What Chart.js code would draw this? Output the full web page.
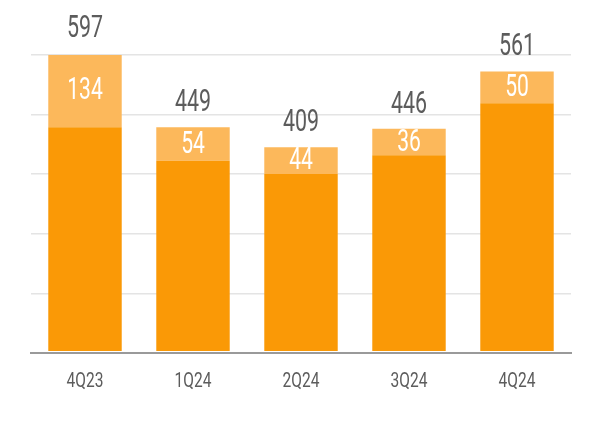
<!DOCTYPE html>
<html>
<head>
<meta charset="utf-8">
<script src="https://cdn.jsdelivr.net/npm/chart.js@4/dist/chart.umd.min.js"></script>
<style>
  html, body { margin: 0; padding: 0; background: #fff; }
  #wrap { width: 600px; height: 422px; position: relative; }
</style>
</head>
<body>
<div id="wrap"><canvas id="qChart"></canvas></div>
<script>
// ---------- data ----------
const quarters = ['4Q23', '1Q24', '2Q24', '3Q24', '4Q24'];
// height of the dark part as drawn in the picture
const baseValues = [449, 382, 355, 393, 497];
// labels printed in the light part, and totals above the bars
const topValues = [134, 54, 44, 36, 50];
const totals = [597, 449, 409, 446, 561];
// light part fills the rest of the bar up to the total
const topSegments = totals.map((t, i) => t - baseValues[i]);

const FONT = 'Roboto, "Noto Sans", sans-serif';
const DARK = '#FA9906';
const LIGHT = '#FCB85B';
const TEXT = '#5c5c5c';

// draw text squeezed horizontally (reference uses a condensed face)
function narrowText(ctx, txt, x, y, squeeze) {
  ctx.save();
  ctx.translate(x, y);
  ctx.scale(squeeze, 1);
  ctx.fillText(txt, 0, 0);
  ctx.restore();
}

// ---------- labels on/above bars + category labels ----------
const barLabels = {
  id: 'barLabels',
  afterDatasetsDraw(chart) {
    const ctx = chart.ctx;
    const topMeta = chart.getDatasetMeta(1);
    const xScale = chart.scales.x;
    ctx.save();
    ctx.textAlign = 'center';
    ctx.textBaseline = 'middle';
    ctx.font = '31px ' + FONT;
    topMeta.data.forEach((bar, i) => {
      ctx.fillStyle = '#ffffff';
      narrowText(ctx, String(topValues[i]), bar.x, (bar.y + bar.base) / 2 + 1, 0.68);
      ctx.fillStyle = TEXT;
      narrowText(ctx, String(totals[i]), bar.x, bar.y - 24, 0.69);
    });
    ctx.font = '21px ' + FONT;
    ctx.fillStyle = TEXT;
    quarters.forEach((q, i) => {
      narrowText(ctx, q, xScale.getPixelForValue(i), xScale.top + 29, 0.74);
    });
    ctx.restore();
  }
};

new Chart(document.getElementById('qChart'), {
  type: 'bar',
  data: {
    labels: quarters,
    datasets: [
      { label: 'base', data: baseValues, backgroundColor: DARK, borderWidth: 0 },
      { label: 'top', data: topSegments, backgroundColor: LIGHT, borderWidth: 0 }
    ]
  },
  options: {
    responsive: true,
    maintainAspectRatio: false,
    animation: false,
    layout: { padding: { top: 55, left: 31, right: 29, bottom: 0 } },
    datasets: { bar: { categoryPercentage: 1, barPercentage: 0.68 } },
    plugins: { legend: { display: false }, tooltip: { enabled: false } },
    scales: {
      x: {
        stacked: true,
        grid: { display: false, drawTicks: false },
        border: { display: true, color: '#9a9a9a', width: 2, z: 1 },
        ticks: { display: false },
        afterFit(scale) { scale.height = 69; }
      },
      y: {
        stacked: true,
        min: -3.96,
        max: 594,
        ticks: { display: false, stepSize: 118.8 },
        grid: { color: '#e4e4e4', lineWidth: 1.5, drawTicks: false },
        border: { display: false }
      }
    }
  },
  plugins: [barLabels]
});
</script>
</body>
</html>
